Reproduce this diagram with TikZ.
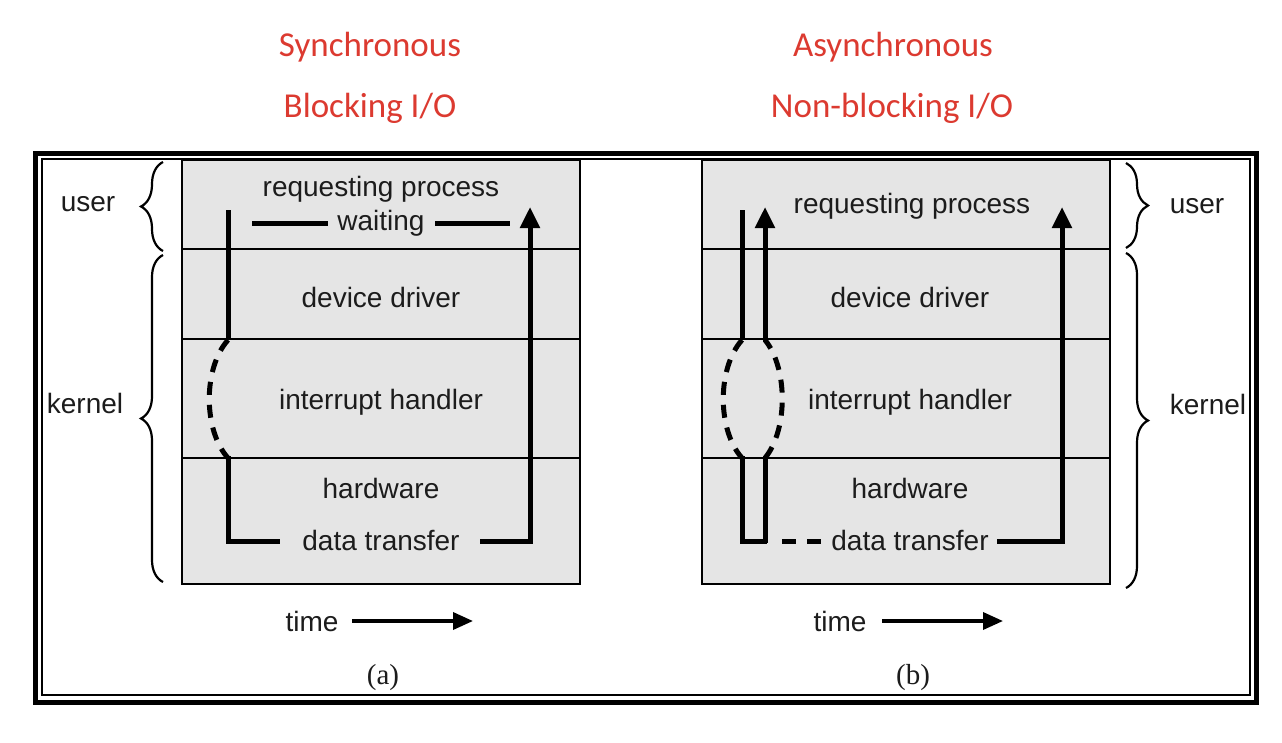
\documentclass[tikz,border=0pt]{standalone}
\usepackage{fontspec}
\setmainfont{Liberation Sans}
\newfontfamily\titlefont{Carlito}
\newfontfamily\capfont{Liberation Serif}
\usetikzlibrary{arrows.meta,decorations.pathreplacing}
\definecolor{titlered}{RGB}{220,58,48}
\definecolor{panelgray}{RGB}{229,229,229}
\definecolor{inktext}{RGB}{28,28,28}
\begin{document}
\begin{tikzpicture}[x=1pt,y=-1pt,
  title/.style={font=\titlefont\fontsize{35}{40}\selectfont, text=titlered, inner sep=0pt},
  lbl/.style={font=\fontsize{28}{32}\selectfont, text=inktext, inner sep=0pt},
  caplbl/.style={font=\capfont\fontsize{29}{32}\selectfont, text=inktext, inner sep=0pt},
  panel/.style={draw=black, line width=2pt, fill=panelgray},
  rowline/.style={draw=black, line width=2pt},
  flow/.style={draw=black, line width=5pt, line join=miter},
  flowarrow/.style={flow, -{Triangle[length=21pt,width=19pt]}},
  dflow/.style={draw=black, line width=5pt, dash pattern=on 13pt off 10pt},
  bracestyle/.style={draw=black, line width=2.2pt, decorate, decoration={brace, amplitude=22pt, aspect=0.5}},
  timearrow/.style={draw=black, line width=3.5pt, -{Triangle[length=20pt,width=17pt]}}
]
\useasboundingbox (0,0) rectangle (1282,742);
\fill[white] (0,0) rectangle (1282,742);

% titles
\node[title] (t1) at (370,47) {Synchronous};
\node[title] (t2) at (370,108) {Blocking I/O};
\node[title] (t3) at (893,47) {Asynchronous};
\node[title] (t4) at (892,108) {Non-blocking I/O};

% frame
\draw[black, line width=5pt] (35.5,153.5) rectangle (1256,702);
\draw[black, line width=1.5pt] (42,159) rectangle (1250,695);

% ===== left panel =====
\draw[panel] (182,160) rectangle (580,584);
\draw[rowline] (182,249) -- (580,249);
\draw[rowline] (182,339) -- (580,339);
\draw[rowline] (182,458) -- (580,458);

\node[lbl] (a-req) at (381,189) {requesting process};
\node[lbl] (a-wait) at (381,223) {waiting};
\node[lbl] (a-dd) at (381,297) {device driver};
\node[lbl] (a-ih) at (381,402) {interrupt handler};
\node[lbl] (a-hw) at (381,488) {hardware};
\node[lbl] (a-dt) at (381,540) {data transfer};

\draw[flow] (252,223) -- (328,223);
\draw[flow] (435,223) -- (510,223);

\draw[flow] (228,210) -- (228,340);
\draw[dflow] (228,340) .. controls (203,368) and (203,430) .. (228,458);
\draw[flow] (228,456) -- (228,541) -- (280,541);
\draw[flowarrow] (480,541) -- (530,541) -- (530,207);

% ===== right panel =====
\draw[panel] (702,160) rectangle (1110,584);
\draw[rowline] (702,249) -- (1110,249);
\draw[rowline] (702,339) -- (1110,339);
\draw[rowline] (702,458) -- (1110,458);

\node[lbl] (b-req) at (912,206) {requesting process};
\node[lbl] (b-dd) at (910,297) {device driver};
\node[lbl] (b-ih) at (910,402) {interrupt handler};
\node[lbl] (b-hw) at (910,488) {hardware};
\node[lbl] (b-dt) at (910,540) {data transfer};

\draw[flow] (742,210) -- (742,340);
\draw[dflow] (742,340) .. controls (717,368) and (717,430) .. (742,458);
\draw[flow] (742,456) -- (742,541) -- (767,541);
\draw[flow] (765,543) -- (765,456);
\draw[dflow] (765,458) .. controls (788,430) and (788,368) .. (765,340);
\draw[flowarrow] (765,342) -- (765,207);
\draw[draw=black, line width=5pt, dash pattern=on 14pt off 11pt] (782,541) -- (822,541);
\draw[flowarrow] (997,541) -- (1062,541) -- (1062,207);

% braces left
\draw[bracestyle] (163,251) -- (163,162);
\draw[bracestyle] (163,582) -- (163,255);
\node[lbl] (uL) at (88,204) {user};
\node[lbl] (kL) at (85,403) {kernel};

% braces right
\draw[bracestyle] (1126,163) -- (1126,248);
\draw[bracestyle] (1126,253) -- (1126,588);
\node[lbl] (uR) at (1197,206) {user};
\node[lbl] (kR) at (1208,404) {kernel};

% time arrows
\node[lbl] (timeA) at (312,621) {time};
\coordinate (taS) at (352,621);
\coordinate (taE) at (473,621);
\draw[timearrow] (taS) -- (taE);
\node[lbl] (timeB) at (840,621) {time};
\coordinate (tbS) at (882,621);
\coordinate (tbE) at (1003,621);
\draw[timearrow] (tbS) -- (tbE);

% captions
\node[caplbl] (capA) at (383,678) {(a)};
\node[caplbl] (capB) at (913,678) {(b)};
\end{tikzpicture}
\end{document}
